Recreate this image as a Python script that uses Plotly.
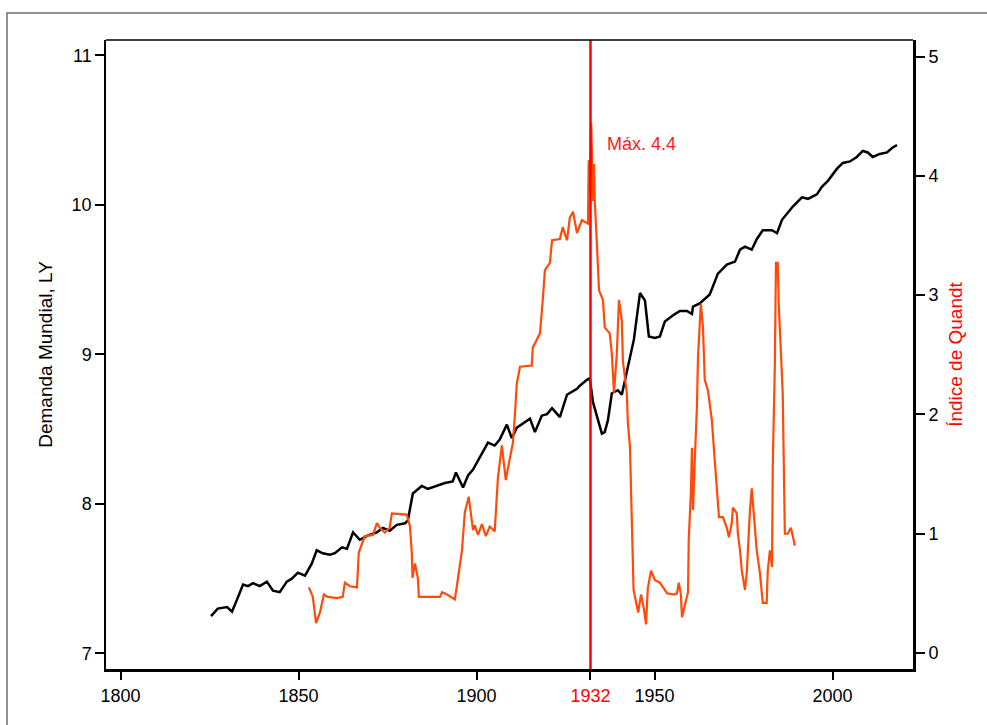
import plotly.graph_objects as go

# Demanda Mundial, LY (left axis)
demand_years = [1825.4, 1827.3, 1829.9, 1831.3, 1832.7, 1834.4, 1835.8, 1837.2, 1839.1, 1841.1,
                1842.8, 1844.7, 1846.7, 1848.1, 1849.8, 1851.8, 1853.7, 1855.1, 1856.8, 1858.8,
                1860.2, 1862.2, 1863.6, 1865.3, 1867.2, 1869.5, 1872.0, 1873.7, 1875.6, 1877.6,
                1879.9, 1880.7, 1882.1, 1884.6, 1886.3, 1888.8, 1891.1, 1893.3, 1894.2, 1896.2,
                1897.6, 1899.0, 1900.9, 1903.2, 1905.1, 1906.5, 1908.5, 1909.9, 1911.3, 1915.0,
                1916.4, 1918.3, 1919.8, 1921.2, 1923.4, 1925.4, 1928.2, 1929.0, 1931.0, 1931.8,
                1932.7, 1933.8, 1935.2, 1936.0, 1936.9, 1938.0, 1939.7, 1940.8, 1942.2, 1944.2,
                1945.9, 1947.3, 1948.4, 1950.1, 1951.5, 1952.9, 1955.1, 1957.1, 1959.1, 1960.5,
                1960.8, 1962.7, 1965.5, 1967.8, 1970.3, 1972.6, 1974.0, 1975.4, 1977.3, 1978.7,
                1980.4, 1983.0, 1984.4, 1985.8, 1988.9, 1991.4, 1993.1, 1995.6, 1997.0, 1998.7,
                2001.2, 2002.9, 2004.9, 2006.8, 2008.5, 2009.9, 2011.3, 2013.3, 2015.3, 2016.7,
                2018.1]
demand_values = [7.25, 7.30, 7.31, 7.28, 7.36, 7.46, 7.45, 7.47, 7.45, 7.48,
                 7.42, 7.41, 7.48, 7.50, 7.54, 7.52, 7.60, 7.69, 7.67, 7.66,
                 7.67, 7.71, 7.70, 7.81, 7.76, 7.79, 7.81, 7.84, 7.82, 7.86,
                 7.87, 7.89, 8.07, 8.12, 8.10, 8.12, 8.14, 8.15, 8.21, 8.11,
                 8.19, 8.23, 8.31, 8.41, 8.39, 8.43, 8.53, 8.44, 8.51, 8.57,
                 8.48, 8.59, 8.60, 8.64, 8.58, 8.73, 8.77, 8.79, 8.83, 8.84,
                 8.68, 8.58, 8.47, 8.48, 8.56, 8.74, 8.76, 8.73, 8.88, 9.10,
                 9.41, 9.36, 9.12, 9.11, 9.12, 9.22, 9.26, 9.29, 9.29, 9.27,
                 9.32, 9.34, 9.40, 9.54, 9.60, 9.62, 9.70, 9.72, 9.70, 9.77,
                 9.83, 9.83, 9.81, 9.90, 9.99, 10.05, 10.04, 10.07, 10.12, 10.16,
                 10.24, 10.28, 10.29, 10.32, 10.36, 10.35, 10.32, 10.34, 10.35, 10.38,
                 10.40]

# Índice de Quandt (right axis)
quandt_years = [1852.9, 1854.0, 1854.9, 1856.0, 1857.1, 1858.2, 1860.8, 1862.4, 1863.0, 1864.4,
                1866.4, 1866.9, 1868.6, 1870.9, 1872.0, 1872.8, 1874.2, 1875.6, 1876.2, 1880.4,
                1881.3, 1881.8, 1882.0, 1882.7, 1883.5, 1883.8, 1889.7, 1890.3, 1891.7, 1893.9,
                1894.7, 1895.9, 1896.7, 1897.8, 1899.0, 1899.5, 1900.4, 1901.5, 1902.6, 1903.7,
                1905.1, 1906.0, 1907.1, 1908.2, 1909.4, 1910.2, 1910.8, 1911.3, 1912.2, 1915.5,
                1915.8, 1917.8, 1918.6, 1919.2, 1920.6, 1921.2, 1923.4, 1924.2, 1925.4, 1926.2,
                1927.1, 1928.2, 1929.6, 1931.3, 1931.5, 1931.8, 1932.2, 1932.7, 1933.0, 1933.2,
                1933.8, 1934.4, 1935.5, 1936.0, 1937.4, 1938.0, 1938.6, 1939.4, 1940.0, 1940.8,
                1941.1, 1942.2, 1942.5, 1943.1, 1944.1, 1944.7, 1945.4, 1946.2, 1947.0, 1947.6,
                1948.1, 1949.0, 1950.1, 1951.5, 1953.5, 1955.4, 1956.3, 1956.8, 1957.4, 1957.7,
                1958.2, 1958.8, 1959.4, 1959.6, 1960.2, 1960.5, 1960.8, 1961.3, 1961.9, 1962.2,
                1962.7, 1963.0, 1963.6, 1964.1, 1965.0, 1966.1, 1966.9, 1967.5, 1968.1, 1969.2,
                1970.3, 1970.9, 1971.7, 1972.0, 1973.1, 1973.4, 1974.0, 1974.5, 1975.4, 1975.9,
                1976.2, 1976.8, 1977.3, 1977.9, 1978.7, 1979.6, 1980.4, 1981.5, 1981.8, 1982.4,
                1983.0, 1983.2, 1983.8, 1984.1, 1984.6, 1984.9, 1985.5, 1986.0, 1986.3, 1986.6,
                1987.4, 1988.3, 1988.9, 1989.4]
quandt_values = [0.55, 0.47, 0.25, 0.34, 0.49, 0.47, 0.46, 0.47, 0.59, 0.56,
                 0.55, 0.84, 0.98, 0.99, 1.09, 1.05, 1.01, 1.05, 1.17, 1.16,
                 1.06, 0.84, 0.63, 0.75, 0.63, 0.47, 0.47, 0.51, 0.49, 0.45,
                 0.61, 0.86, 1.18, 1.31, 1.03, 1.07, 0.99, 1.08, 0.98, 1.06,
                 1.02, 1.47, 1.74, 1.45, 1.64, 1.76, 2.01, 2.26, 2.40, 2.41,
                 2.56, 2.68, 2.96, 3.21, 3.27, 3.46, 3.47, 3.57, 3.46, 3.65,
                 3.70, 3.52, 3.63, 3.60, 4.13, 3.85, 4.44, 3.79, 4.10, 3.79,
                 3.43, 3.04, 2.96, 2.73, 2.68, 2.51, 2.18, 2.51, 2.96, 2.79,
                 2.45, 2.18, 1.93, 1.72, 0.53, 0.44, 0.34, 0.49, 0.37, 0.24,
                 0.54, 0.69, 0.61, 0.59, 0.50, 0.49, 0.50, 0.59, 0.49, 0.30,
                 0.37, 0.44, 0.51, 0.95, 1.34, 1.72, 1.20, 1.62, 2.06, 2.48,
                 2.71, 2.93, 2.73, 2.29, 2.20, 1.95, 1.62, 1.37, 1.14, 1.14,
                 1.05, 0.97, 1.09, 1.22, 1.17, 1.00, 0.86, 0.69, 0.53, 0.67,
                 0.85, 1.20, 1.38, 1.14, 0.86, 0.67, 0.42, 0.42, 0.69, 0.86,
                 0.72, 1.56, 2.43, 3.27, 3.27, 2.91, 2.56, 2.18, 1.59, 1.00,
                 1.00, 1.05, 0.97, 0.90]

x_tickvals = [1800, 1850, 1900, 1932, 1950, 2000]
x_ticktext = ["1800", "1850", "1900", "<span style='color:#ff0000'>1932</span>", "1950", "2000"]
left_ticks = [7, 8, 9, 10, 11]
right_ticks = [0, 1, 2, 3, 4, 5]
break_year = 1932
max_label = "Máx. 4.4"
max_label_pos = (1936.0, 4.27)

W, H = 987, 725
ML, MR, MT, MB = 106, 74, 40, 56
PW, PH = W - ML - MR, H - MT - MB

def px_x(p):
    return (p - ML) / PW

def px_y(p):
    return (H - MB - p) / PH

fig = go.Figure()
fig.add_trace(go.Scatter(x=demand_years, y=demand_values, mode="lines",
                         line=dict(color="black", width=2.5), name="Demanda Mundial, LY",
                         yaxis="y"))
fig.add_trace(go.Scatter(x=quandt_years, y=quandt_values, mode="lines",
                         line=dict(color="#ff4a0a", width=2.2), name="Índice de Quandt",
                         yaxis="y2"))

fig.add_shape(type="line", xref="x", yref="paper", x0=break_year, x1=break_year, y0=0, y1=1,
              line=dict(color="#ff0000", width=2.5))
# top border of plot box
fig.add_shape(type="line", xref="paper", yref="paper", x0=0, x1=1, y0=1, y1=1,
              line=dict(color="black", width=1.5))
# outer gray frame
fig.add_shape(type="rect", xref="paper", yref="paper",
              x0=px_x(7), x1=px_x(1000), y0=px_y(740), y1=px_y(13),
              line=dict(color="#6e6e6e", width=1.5), fillcolor="rgba(0,0,0,0)", layer="below")

fig.add_annotation(x=max_label_pos[0], y=max_label_pos[1], xref="x", yref="y2",
                   text=max_label, showarrow=False, xanchor="left", yanchor="middle",
                   font=dict(color="#ff1a1a", size=18, family="Liberation Sans, Arial"))

font = dict(family="Liberation Sans, Arial", size=18, color="black")

fig.update_layout(
    width=W, height=H,
    margin=dict(l=ML, r=MR, t=MT, b=MB, pad=0),
    paper_bgcolor="white", plot_bgcolor="white",
    showlegend=False,
    font=font,
    xaxis=dict(range=[1795.9, 2022.6], tickvals=x_tickvals, ticktext=x_ticktext,
               showgrid=False, zeroline=False, showline=True, linecolor="black", linewidth=3,
               ticks="outside", ticklen=8, tickwidth=1.5, tickcolor="black",
               tickfont=dict(family="Liberation Sans, Arial", size=18)),
    yaxis=dict(range=[6.896, 11.102], tickvals=left_ticks,
               showgrid=False, zeroline=False, showline=True, linecolor="black", linewidth=1.5,
               ticks="outside", ticklen=9, tickwidth=1.5, tickcolor="black",
               tickfont=dict(size=18),
               title=dict(text="Demanda Mundial, LY", font=dict(size=19), standoff=14)),
    yaxis2=dict(range=[-0.134, 5.139], tickvals=right_ticks, overlaying="y", side="right",
                showgrid=False, zeroline=False, showline=True, linecolor="black", linewidth=3,
                ticks="outside", ticklen=9, tickwidth=1.5, tickcolor="black",
                tickfont=dict(size=18),
                title=dict(text="Índice de Quandt", font=dict(size=19, color="#ff0000"), standoff=12)),
)

fig.write_html("out.html")
